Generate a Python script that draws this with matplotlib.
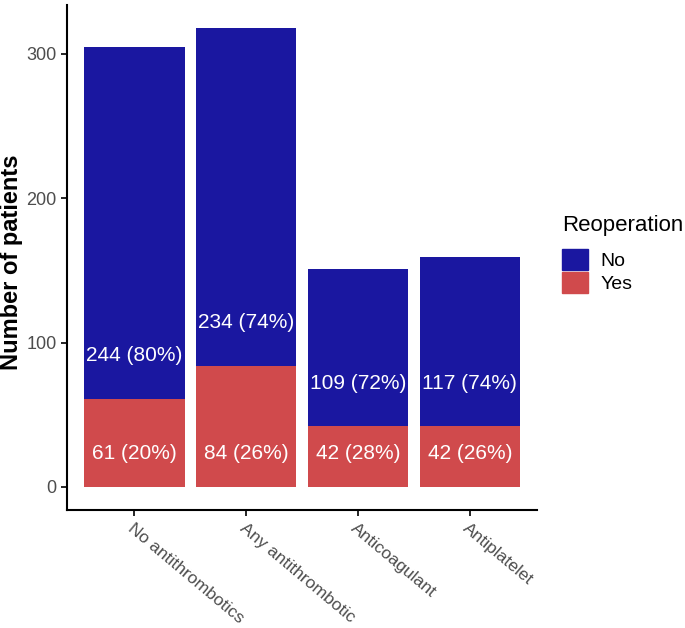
import matplotlib.pyplot as plt
import numpy as np
from matplotlib.patches import Patch

plt.rcParams['font.family'] = ['Liberation Sans', 'DejaVu Sans']

# datos
grupos = ["No antithrombotics", "Any antithrombotic", "Anticoagulant", "Antiplatelet"]
no_reop = [244, 234, 109, 117]
si_reop = [61, 84, 42, 42]
pct_no = [80, 74, 72, 74]
pct_si = [20, 26, 28, 26]

azul = "#1a17a0"
rojo = "#d04a4c"

fig = plt.figure(figsize=(6.85, 6.28), dpi=100)
ax = fig.add_axes([0.098, 0.188, 0.686, 0.804])

x = np.arange(len(grupos))
ax.bar(x, si_reop, width=0.9, color=rojo)
ax.bar(x, no_reop, width=0.9, bottom=si_reop, color=azul)

# etiquetas dentro de las barras
for i in range(len(grupos)):
    ax.text(x[i], 23, f"{si_reop[i]} ({pct_si[i]}%)", color="white",
            ha="center", va="center", fontsize=15)
    ax.text(x[i], si_reop[i] + 30, f"{no_reop[i]} ({pct_no[i]}%)", color="white",
            ha="center", va="center", fontsize=15)

totales = [a + b for a, b in zip(no_reop, si_reop)]
ymax = max(totales)
ax.set_ylim(-0.05 * ymax, 1.05 * ymax)
ax.set_xlim(-0.6, len(grupos) - 0.4)
ax.set_yticks([0, 100, 200, 300])
ax.set_xticks(x)
ax.set_xticklabels(grupos, rotation=-40, ha="left", va="top", rotation_mode="anchor")

for s in ["top", "right"]:
    ax.spines[s].set_visible(False)
for s in ["left", "bottom"]:
    ax.spines[s].set_linewidth(1.5)
ax.tick_params(axis="y", labelsize=13)
ax.tick_params(axis="x", labelsize=12.6)
ax.tick_params(axis="both", labelcolor="#4d4d4d", color="black", length=4, width=1.2)
ax.set_ylabel("Number of patients", fontsize=17, fontweight="bold")
ax.yaxis.set_label_coords(-0.094, 0.49)

handles = [Patch(color=azul, label="No"), Patch(color=rojo, label="Yes")]
leg = fig.legend(handles=handles, title="Reoperation", loc="upper left",
                 bbox_to_anchor=(0.818, 0.66), frameon=False, fontsize=14,
                 title_fontsize=16, handlelength=1.3, handleheight=1.3,
                 handletextpad=0.67, labelspacing=0.08, borderaxespad=0,
                 borderpad=0.1)
leg._legend_box.align = "left"
leg._legend_box.sep = 9

fig.savefig("out.png", dpi=100)
